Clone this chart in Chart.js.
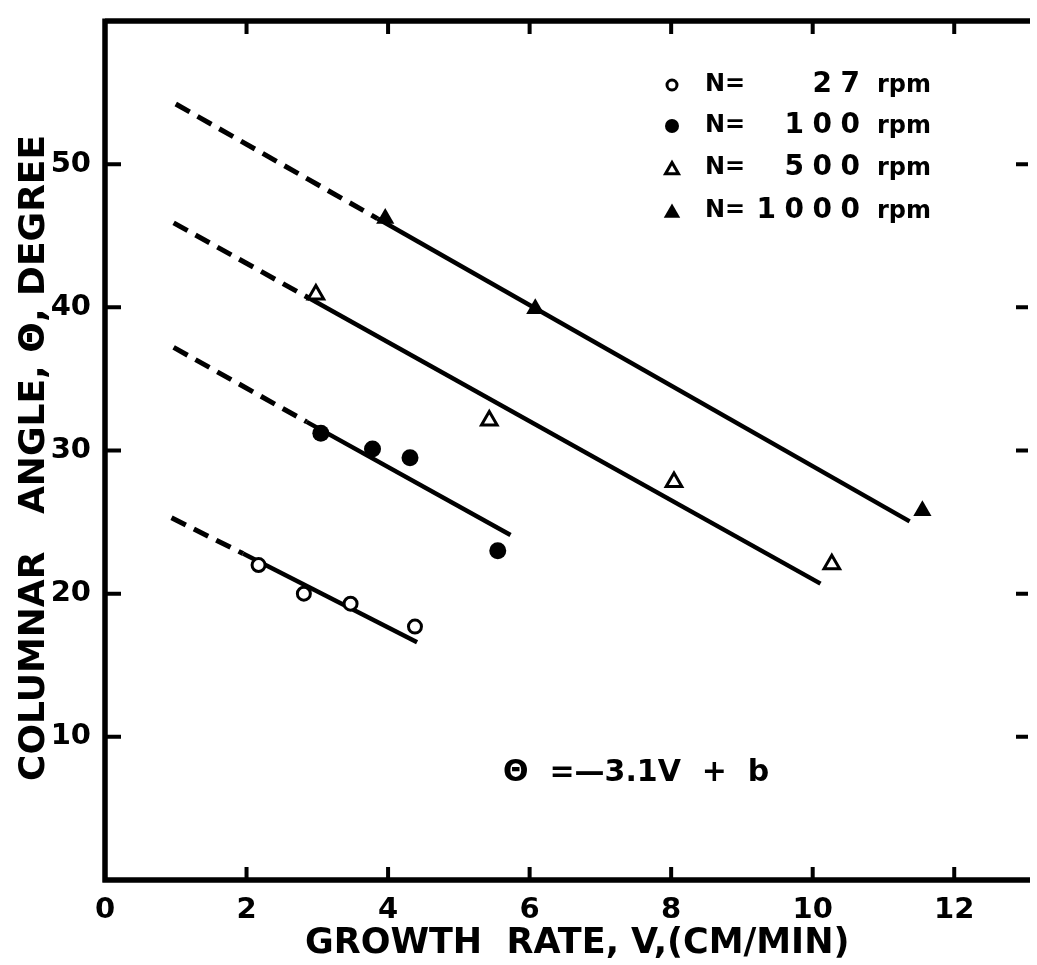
<!DOCTYPE html>
<html>
<head>
<meta charset="utf-8">
<script src="https://cdn.jsdelivr.net/npm/chart.js@4.4.1/dist/chart.umd.min.js"></script>
<style>
  html, body { margin: 0; padding: 0; background: #fff; }
  #wrap { width: 1037px; height: 965px; }
</style>
</head>
<body>
<div id="wrap"><canvas id="chart" width="1037" height="965"></canvas></div>
<script>
// growth rate V (cm/min) vs columnar angle (degree), one pair of arrays per rotation speed
const v27 = [2.17, 2.81, 3.47, 4.38];
const theta27 = [22.0, 20.0, 19.3, 17.7];
const v100 = [3.05, 3.78, 4.31, 5.55];
const theta100 = [31.2, 30.1, 29.5, 23.0];
const v500 = [2.98, 5.43, 8.04, 10.27];
const theta500 = [40.9, 32.1, 27.8, 22.05];
const v1000 = [3.96, 6.08, 11.55];
const theta1000 = [46.2, 39.9, 25.8];

// fitted lines: start, break, end (start..break dashed, break..end solid)
const fitV27 = [0.94, 1.95, 4.41];
const fitTheta27 = [25.3, 22.8, 16.6];
const fitV100 = [0.97, 2.85, 5.73];
const fitTheta100 = [37.2, 32.0, 24.1];
const fitV500 = [0.97, 2.9, 10.11];
const fitTheta500 = [45.9, 40.6, 20.7];
const fitV1000 = [1.0, 3.85, 11.37];
const fitTheta1000 = [54.2, 46.2, 25.05];

const speeds = ['27', '100', '500', '1000'];
const xTicks = [0, 2, 4, 6, 8, 10, 12];
const yTicks = [10, 20, 30, 40, 50];

const FONT = 'DejaVu Sans';

const pts = (xs, ys) => xs.map((x, i) => ({ x: x, y: ys[i] }));

const markerStyles = [
  { pointStyle: 'circle', pointRadius: 6.5, pointBorderWidth: 3, pointBackgroundColor: '#fff' },
  { pointStyle: 'circle', pointRadius: 8.5, pointBorderWidth: 0, pointBackgroundColor: '#000' },
  { pointStyle: 'triangle', pointRadius: 9, pointBorderWidth: 3, pointBackgroundColor: '#fff' },
  { pointStyle: 'triangle', pointRadius: 10.5, pointBorderWidth: 0, pointBackgroundColor: '#000' }
];
const legendRadius = [5, 7, 7.5, 9.5];

const series = [[v27, theta27], [v100, theta100], [v500, theta500], [v1000, theta1000]];
const fits = [[fitV27, fitTheta27], [fitV100, fitTheta100], [fitV500, fitTheta500], [fitV1000, fitTheta1000]];

const datasets = [];
series.forEach((s, i) => {
  datasets.push(Object.assign({
    type: 'scatter',
    label: 'N=' + speeds[i] + ' rpm',
    data: pts(s[0], s[1]),
    showLine: false,
    pointBorderColor: '#000',
    order: 0
  }, markerStyles[i]));
});
fits.forEach(f => {
  const p = pts(f[0], f[1]);
  datasets.push({
    type: 'line', data: [p[0], p[1]], borderColor: '#000', borderWidth: 5,
    borderDash: [16, 9], pointRadius: 0, fill: false, order: 1
  });
  datasets.push({
    type: 'line', data: [p[1], p[2]], borderColor: '#000', borderWidth: 4.5,
    pointRadius: 0, fill: false, order: 1
  });
});

// box border with inward ticks, y title, legend and fit equation
const decorations = {
  id: 'decorations',
  afterDraw(chart) {
    const ctx = chart.ctx;
    const a = chart.chartArea;
    const xs = chart.scales.x, ys = chart.scales.y;
    ctx.save();
    ctx.strokeStyle = '#000';
    ctx.lineWidth = 5.5;
    ctx.beginPath();
    ctx.moveTo(a.left, a.top);
    ctx.lineTo(a.right + 5, a.top);
    ctx.moveTo(a.left, a.top - 2.5);
    ctx.lineTo(a.left, a.bottom + 2.5);
    ctx.moveTo(a.left - 2.5, a.bottom);
    ctx.lineTo(a.right + 5, a.bottom);
    ctx.stroke();

    ctx.lineWidth = 4;
    ctx.beginPath();
    xTicks.slice(1).forEach(v => {
      const px = xs.getPixelForValue(v);
      ctx.moveTo(px, a.bottom);
      ctx.lineTo(px, a.bottom - 13);
      ctx.moveTo(px, a.top);
      ctx.lineTo(px, a.top + 13);
    });
    yTicks.forEach(v => {
      const py = ys.getPixelForValue(v);
      ctx.moveTo(a.left, py);
      ctx.lineTo(a.left + 16, py);
      ctx.moveTo(a.right + 3, py);
      ctx.lineTo(a.right - 9, py);
    });
    ctx.stroke();

    // y axis title
    ctx.save();
    ctx.translate(44, 458);
    ctx.rotate(-Math.PI / 2);
    ctx.fillStyle = '#000';
    ctx.font = 'bold 36px "' + FONT + '"';
    ctx.textAlign = 'center';
    ctx.textBaseline = 'alphabetic';
    ctx.fillText('COLUMNAR   ANGLE, \u0398, DEGREE', 0, 0);
    ctx.restore();

    // legend
    const rowY = [85, 126, 168, 211];
    ctx.textBaseline = 'middle';
    speeds.forEach((s, i) => {
      const st = markerStyles[i];
      ctx.fillStyle = st.pointBackgroundColor;
      ctx.strokeStyle = '#000';
      ctx.lineWidth = st.pointBorderWidth;
      Chart.helpers.drawPoint(ctx, {
        pointStyle: st.pointStyle, radius: legendRadius[i], rotation: 0, borderWidth: st.pointBorderWidth
      }, 672, rowY[i] + (st.pointStyle === 'triangle' ? 2 : 0));
      ctx.fillStyle = '#000';
      ctx.font = 'bold 24px "' + FONT + '"';
      ctx.textAlign = 'left';
      ctx.fillText('N=', 705, rowY[i]);
      ctx.font = 'bold 28px "' + FONT + '"';
      ctx.textAlign = 'right';
      const digits = s.split('');
      digits.forEach((d, k) => {
        ctx.fillText(d, 860 - (digits.length - 1 - k) * 28, rowY[i]);
      });
      ctx.font = 'bold 24px "' + FONT + '"';
      ctx.textAlign = 'left';
      ctx.fillText('rpm', 877, rowY[i] + 1);
    });

    // fit equation
    ctx.font = 'bold 30px "' + FONT + '"';
    ctx.textAlign = 'left';
    ctx.fillText('\u0398  =\u20143.1V  +  b', 503, 773);
    ctx.restore();
  }
};

new Chart(document.getElementById('chart'), {
  data: { datasets: datasets },
  options: {
    responsive: false,
    animation: false,
    devicePixelRatio: 1,
    layout: { padding: { top: 21, right: 3, left: 0, bottom: 0 } },
    plugins: {
      legend: { display: false },
      tooltip: { enabled: false }
    },
    scales: {
      x: {
        type: 'linear', min: 0, max: 13,
        afterBuildTicks: s => { s.ticks = xTicks.map(v => ({ value: v })); },
        afterFit: s => { s.height = 85; s.paddingLeft = 0; s.paddingRight = 0; },
        grid: { display: false, drawTicks: false },
        border: { display: false },
        ticks: { color: '#000', padding: 13, font: { family: FONT, weight: 'bold', size: 29 } },
        title: {
          display: true, text: '  GROWTH  RATE, V,(CM/MIN)', color: '#000',
          font: { family: FONT, weight: 'bold', size: 35 }, padding: { top: 0, bottom: 0 }
        }
      },
      y: {
        type: 'linear', min: 0, max: 60,
        afterBuildTicks: s => { s.ticks = yTicks.map(v => ({ value: v })); },
        afterFit: s => { s.width = 105; s.paddingTop = 0; s.paddingBottom = 0; },
        grid: { display: false, drawTicks: false },
        border: { display: false },
        ticks: { color: '#000', padding: 14, font: { family: FONT, weight: 'bold', size: 29 } },
        title: { display: false }
      }
    }
  },
  plugins: [decorations]
});
</script>
</body>
</html>
